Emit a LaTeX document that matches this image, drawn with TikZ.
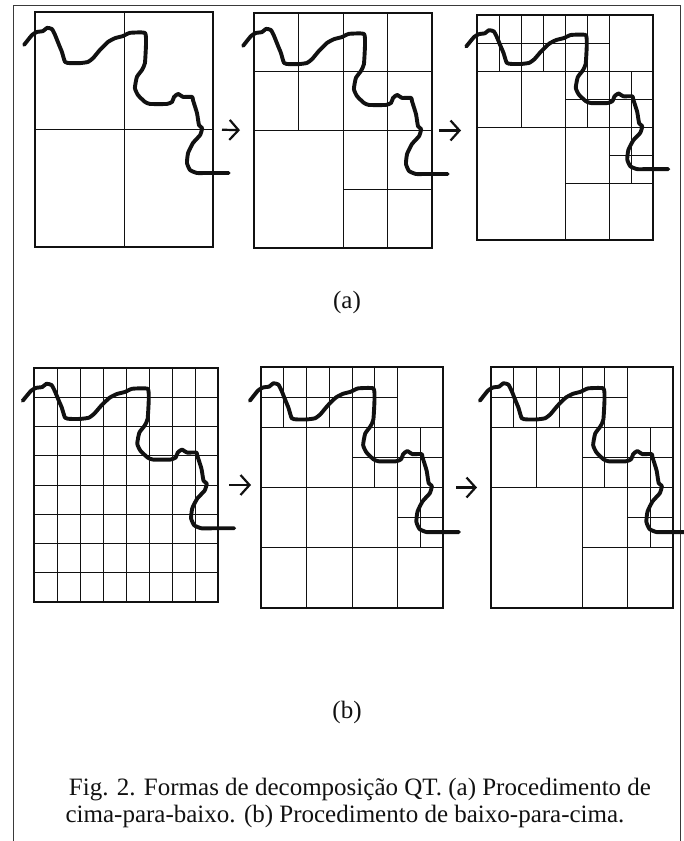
\documentclass[tikz,border=0pt]{standalone}
\usepackage{fontspec}
\setmainfont{Liberation Serif}
\usepackage{tikz}
\usetikzlibrary{arrows.meta}
\definecolor{ink}{HTML}{111111}
\definecolor{rule}{HTML}{3A3A3A}
\tikzset{
  panelframe/.style={draw=ink,line width=1.2pt},
  cellline/.style={draw=ink,line width=.8pt},
  contour/.style={draw=ink,line width=3.9pt,line join=round,line cap=round},
  qtarrow/.style={draw=ink,line width=2.2pt,arrows={-Straight Barb[length=9pt,width=20pt]}},
  captext/.style={font=\fontsize{25}{28}\selectfont,text=ink,inner sep=0pt},
  border/.style={draw=rule,line width=.9pt},
}
% the same contour, in cell units of one panel (8 x 8 cells)
\newcommand{\contourline}{%
  \draw[contour] plot[smooth,tension=.3] coordinates {
    (-0.49,1.12) (-0.13,0.78) (0.09,0.68) (0.36,0.65) (0.54,0.54) (0.76,0.58)
    (0.90,0.78) (1.08,1.12) (1.21,1.36) (1.35,1.70) (1.57,1.74) (2.02,1.74)
    (2.38,1.70) (2.61,1.57) (2.92,1.29) (3.28,1.02) (3.60,0.89) (3.95,0.82)
    (4.27,0.71) (4.94,0.71) (4.99,1.06) (4.94,1.74) (4.81,1.97)
    (4.58,2.21) (4.49,2.59) (4.63,2.83) (4.94,3.06) (5.17,3.13) (5.93,3.13)
    (6.16,3.06) (6.25,2.89) (6.43,2.79) (6.65,2.89) (7.06,2.89) (7.10,3.00)
    (7.28,3.44) (7.37,3.85) (7.51,3.95) (7.42,4.19) (7.10,4.46) (6.88,4.80)
    (6.83,5.14) (6.97,5.38) (7.28,5.48) (7.73,5.48) (8.70,5.48)};}
% final quadtree cells (cols/rows, from/to)
\newcommand{\finalcells}{%
  \foreach \c/\from/\to in {1/0/2,2/0/4,3/0/2,4/0/8,5/0/4,6/0/8,7/2/6}
    \draw[cellline] (\c,\from) -- (\c,\to);
  \foreach \r/\from/\to in {1/0/6,2/0/8,3/4/8,4/0/8,5/6/8,6/4/8}
    \draw[cellline] (\from,\r) -- (\to,\r);}

\begin{document}
\begin{tikzpicture}[x=1pt,y=-1pt]
  \useasboundingbox (0,0) rectangle (684,841);
  \draw[border] (13,841) -- (13,5) -- (680,5) -- (680,841);

  % (a) top-down
  \begin{scope}[shift={(35,12)},x=22.25pt,y=-29.375pt]
    \coordinate (a1w) at (0,4); \coordinate (a1e) at (8,4);
    \draw[cellline] (4,0) -- (4,8) (0,4) -- (8,4);
    \draw[panelframe] (0,0) rectangle (8,8);
    \contourline
  \end{scope}
  \begin{scope}[shift={(254,13)},x=22.25pt,y=-29.375pt]
    \coordinate (a2w) at (0,4); \coordinate (a2e) at (8,4);
    \draw[cellline] (2,0) -- (2,4) (4,0) -- (4,8) (6,0) -- (6,8);
    \draw[cellline] (0,2) -- (8,2) (0,4) -- (8,4) (4,6) -- (8,6);
    \draw[panelframe] (0,0) rectangle (8,8);
    \contourline
  \end{scope}
  \begin{scope}[shift={(477,15)},x=22pt,y=-28.125pt]
    \coordinate (a3w) at (0,4);
    \finalcells
    \draw[panelframe] (0,0) rectangle (8,8);
    \contourline
  \end{scope}
  \draw[qtarrow,shorten <=9pt,shorten >=14pt] (a1e) -- (a2w);
  \draw[qtarrow,shorten <=7pt,shorten >=16pt] (a2e) -- (a2e -| a3w);
  \node[captext] (la) at (347,302) {(a)};

  % (b) bottom-up
  \begin{scope}[shift={(34,368)},x=23pt,y=-29.25pt]
    \coordinate (b1e) at (8,4);
    \foreach \c in {1,...,7}
      \draw[cellline] (\c,0) -- (\c,8) (0,\c) -- (8,\c);
    \draw[panelframe] (0,0) rectangle (8,8);
    \contourline
  \end{scope}
  \begin{scope}[shift={(261,367)},x=22.75pt,y=-30.125pt]
    \coordinate (b2w) at (0,4); \coordinate (b2e) at (8,4);
    \foreach \c/\from/\to in {1/0/2,2/0/8,3/0/2,4/0/8,5/0/4,6/0/8,7/2/6}
      \draw[cellline] (\c,\from) -- (\c,\to);
    \foreach \r/\from/\to in {1/0/6,2/0/8,3/4/8,4/0/8,5/6/8,6/0/8}
      \draw[cellline] (\from,\r) -- (\to,\r);
    \draw[panelframe] (0,0) rectangle (8,8);
    \contourline
  \end{scope}
  \begin{scope}[shift={(491,367)},x=22.75pt,y=-30.125pt]
    \coordinate (b3w) at (0,4);
    \finalcells
    \draw[panelframe] (0,0) rectangle (8,8);
    \contourline
  \end{scope}
  \draw[qtarrow,shorten <=11pt,shorten >=10pt] (b1e) -- (b1e -| b2w);
  \draw[qtarrow,shorten <=13pt,shorten >=14pt] (b2e) -- (b3w);
  \node[captext] (lb) at (347,712) {(b)};

  \node[captext,anchor=base] (cap1) at (360,795)
    {Fig. 2. Formas de decomposição QT. (a) Procedimento de};
  \node[captext,anchor=base] (cap2) at (345,822)
    {cima-para-baixo. (b) Procedimento de baixo-para-cima.};
\end{tikzpicture}
\end{document}
